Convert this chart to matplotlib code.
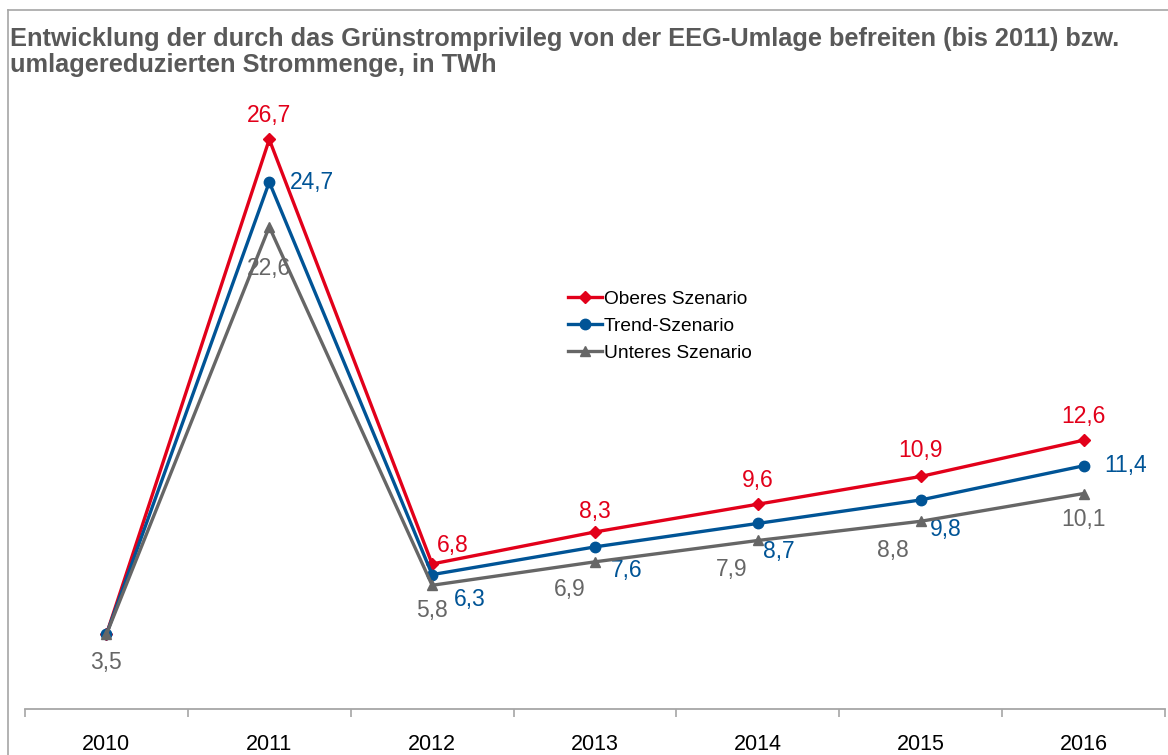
import matplotlib.pyplot as plt
from matplotlib.lines import Line2D

# --- Data ---
years = [2010, 2011, 2012, 2013, 2014, 2015, 2016]
oberes = [3.5, 26.7, 6.8, 8.3, 9.6, 10.9, 12.6]
trend = [3.5, 24.7, 6.3, 7.6, 8.7, 9.8, 11.4]
unteres = [3.5, 22.6, 5.8, 6.9, 7.9, 8.8, 10.1]

TITLE = ("Entwicklung der durch das Grünstromprivileg von der EEG-Umlage befreiten (bis 2011) bzw.\n"
         "umlagereduzierten Strommenge, in TWh")

RED = '#E2001A'
BLUE = '#005496'
GREY = '#666666'

plt.rcParams['font.family'] = ['Liberation Sans', 'DejaVu Sans']

fig = plt.figure(figsize=(11.68, 7.55), dpi=100)
ax = fig.add_axes([0.0214, 0.0609, 0.976, 0.8477])

# figure frame (top and left edges visible)
fig.add_artist(Line2D([8 / 1168, 1], [1 - 10 / 755] * 2, transform=fig.transFigure,
                      color='#A6A6A6', lw=1.2))
fig.add_artist(Line2D([8 / 1168] * 2, [0, 1 - 10 / 755], transform=fig.transFigure,
                      color='#A6A6A6', lw=1.2))

fig.text(10 / 1168, 1 - 27 / 755, TITLE, fontsize=18.3, fontweight='bold', color='#595959',
         va='top', ha='left', linespacing=1.13)

x = list(range(len(years)))
ax.plot(x, oberes, color=RED, lw=2.4, marker='D', ms=6, label='Oberes Szenario', zorder=3)
ax.plot(x, trend, color=BLUE, lw=2.4, marker='o', ms=7.5, label='Trend-Szenario', zorder=4)
ax.plot(x, unteres, color=GREY, lw=2.4, marker='^', ms=7.5, label='Unteres Szenario', zorder=5)

# label offsets in points (dx, dy); None = no label
off_red = [None, (0, 17), (15, 13), (0, 15), (0, 17), (0, 19), (0, 17)]
off_blue = [None, (31, 0), (27, -18), (23, -17), (15, -20), (18, -21), (30, 0)]
off_grey = [(0, -20), (0, -30), (0, -18), (-18, -20), (-19, -21), (-20, -21), (0, -19)]


def fmt(v):
    return f"{v:.1f}".replace('.', ',')


for vals, offs, col in [(oberes, off_red, RED), (trend, off_blue, BLUE), (unteres, off_grey, GREY)]:
    for i, (v, o) in enumerate(zip(vals, offs)):
        if o is None:
            continue
        ax.annotate(fmt(v), (i, v), xytext=o, textcoords='offset points',
                    ha='center', va='center', fontsize=16.5, color=col)

ax.set_xlim(-0.5, len(years) - 0.5)
ax.set_ylim(0, 30)

for s in ['left', 'right', 'top']:
    ax.spines[s].set_visible(False)
ax.spines['bottom'].set_color('#A6A6A6')
ax.spines['bottom'].set_linewidth(1.3)
ax.set_yticks([])

ax.set_xticks(x)
ax.set_xticklabels([str(y) for y in years], fontsize=15.5, color='black')
ax.tick_params(axis='x', which='major', length=0, pad=18)
ax.set_xticks([i - 0.5 for i in range(len(years) + 1)], minor=True)
ax.tick_params(axis='x', which='minor', length=6, color='#A6A6A6', width=1.2)

ax.legend(loc='center left', bbox_to_anchor=(0.476, 0.598), frameon=False, fontsize=13.8,
          handlelength=1.8, handletextpad=0.1, labelspacing=0.5, borderpad=0,
          borderaxespad=0)

fig.savefig('out.png', dpi=100)
